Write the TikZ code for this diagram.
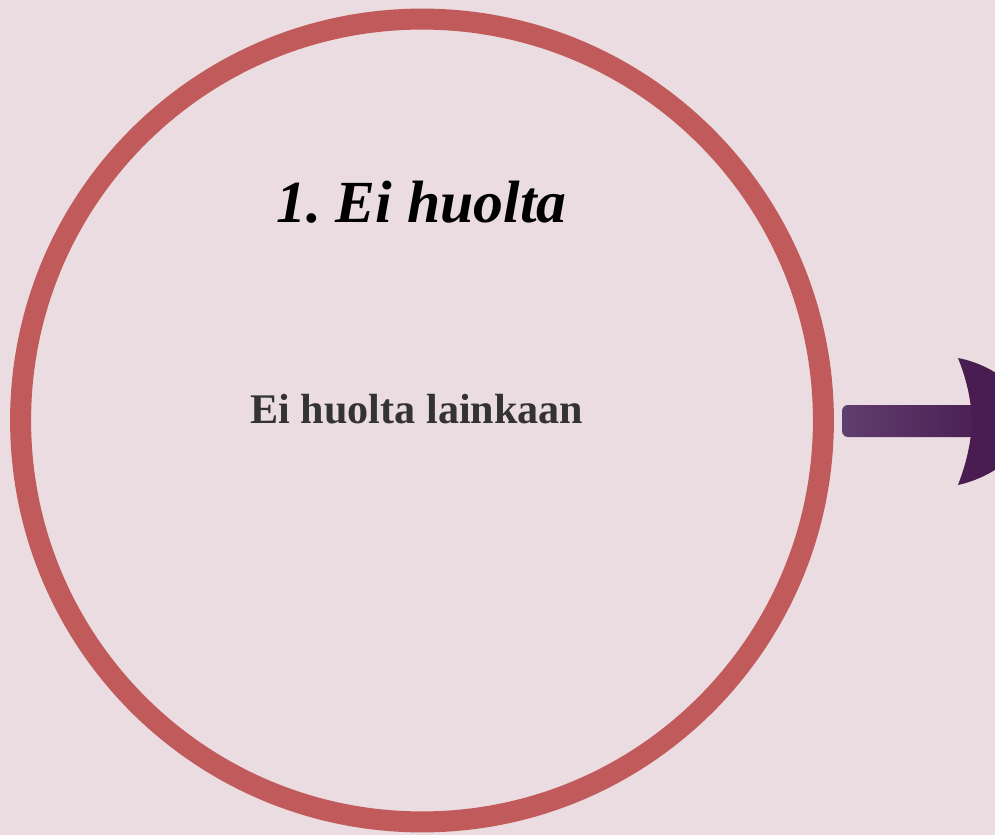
\documentclass[tikz,border=0pt]{standalone}
\usepackage{fontspec}
\setmainfont{Liberation Serif}
\frenchspacing
\definecolor{bg}{HTML}{EADCE0}
\definecolor{ring}{HTML}{C15A5A}
\definecolor{txtgray}{HTML}{333333}
\definecolor{arrowL}{HTML}{603E6E}
\definecolor{arrowR}{HTML}{4B2054}
\definecolor{arrowHead}{HTML}{4A1D52}
\tikzset{
  ringstyle/.style={draw=ring, line width=0.42cm, circle, minimum size=16.06cm, inner sep=0pt},
  titlestyle/.style={font=\bfseries\itshape\fontsize{34}{38}\selectfont, text=black, anchor=base, inner sep=0pt},
  substyle/.style={font=\bfseries\fontsize{24}{28}\selectfont, text=txtgray, anchor=base, inner sep=0pt},
}
\begin{document}
\begin{tikzpicture}[x=0.02cm,y=-0.02cm]
\useasboundingbox (0,0) rectangle (995,835);
\clip (0,0) rectangle (995,835);
\fill[bg] (0,0) rectangle (995,835);
\node[ringstyle] (ring) at (422,420.5) {};
\node[titlestyle] (title) at (421.5,222) {1. Ei huolta};
\node[substyle] (sub) at (417,423) {Ei huolta lainkaan};
% arrow shaft
\shade[left color=arrowL, right color=arrowR, rounded corners=0.12cm]
  (842,405) rectangle (976,437);
% arrow head
\fill[arrowHead] (958,358) .. controls (966,378) and (971,398) .. (972,421)
  .. controls (971,444) and (966,464) .. (958,485)
  .. controls (990,478) and (1025,455) .. (1035,421)
  .. controls (1025,387) and (990,364) .. cycle;
\end{tikzpicture}
\end{document}
